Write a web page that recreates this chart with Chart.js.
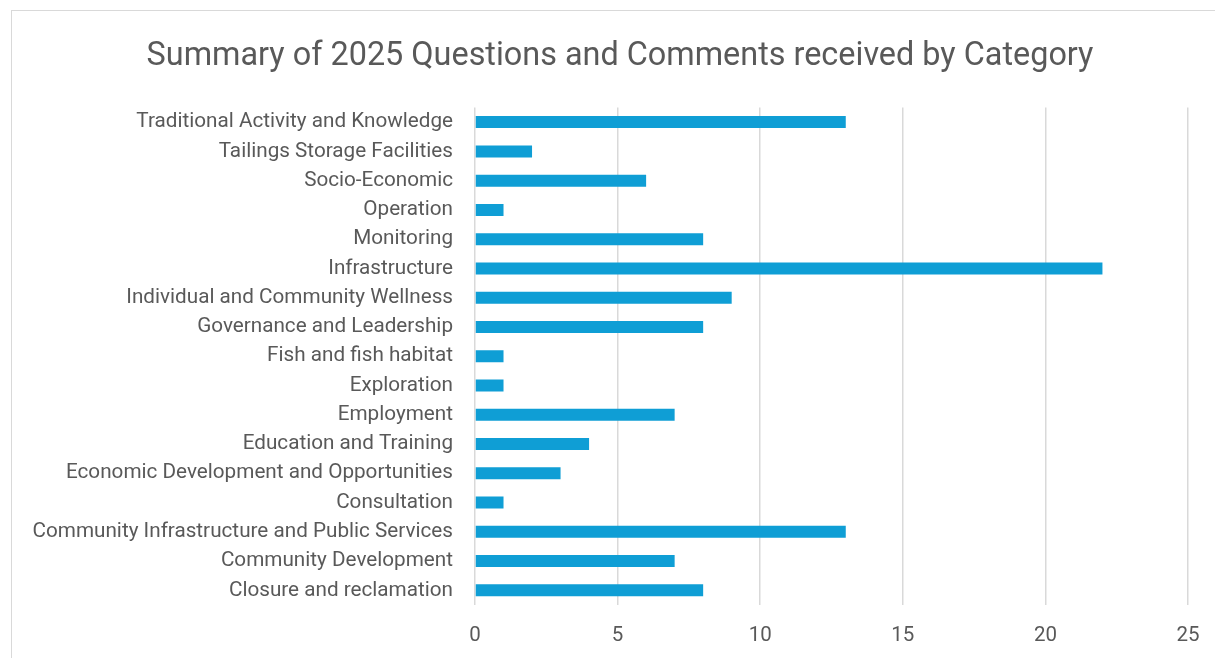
<!DOCTYPE html>
<html>
<head>
<meta charset="utf-8">
<script src="https://cdn.jsdelivr.net/npm/chart.js@4"></script>
<style>
  html, body { margin: 0; padding: 0; background: #fff; overflow: hidden; width: 1215px; height: 658px; }
  #frame { position: absolute; left: 11px; top: 10px; width: 1240px; height: 680px; border: 1.5px solid #d9d9d9; box-sizing: border-box; }
  #wrap { position: absolute; left: 0; top: 0; width: 1240px; height: 658px; }
</style>
</head>
<body>
<div id="frame"></div>
<div id="wrap"><canvas id="chart"></canvas></div>
<script>
// ===================
// Data
// ===================

const categories = [
	'Traditional Activity and Knowledge',
	'Tailings Storage Facilities',
	'Socio-Economic',
	'Operation',
	'Monitoring',
	'Infrastructure',
	'Individual and Community Wellness',
	'Governance and Leadership',
	'Fish and fish habitat',
	'Exploration',
	'Employment',
	'Education and Training',
	'Economic Development and Opportunities',
	'Consultation',
	'Community Infrastructure and Public Services',
	'Community Development',
	'Closure and reclamation'
];

const counts = [13, 2, 6, 1, 8, 22, 9, 8, 1, 1, 7, 4, 3, 1, 13, 7, 8];

const xMin = 0;
const xMax = 25;
const xStep = 5;

// ===================
// Chart
// ===================

Chart.defaults.font.family = 'Roboto, sans-serif';
Chart.defaults.color = '#595959';

var ctx = document.getElementById('chart').getContext('2d');
var chart = new Chart(ctx, {
    type: 'bar',
    data: {
        labels: categories,
        datasets: [{
            data: counts,
            backgroundColor: '#0f9ed5',
            borderWidth: 0,
            categoryPercentage: 1,
            barPercentage: 0.41
        }]
    },
    options: {
        indexAxis: 'y',
        responsive: true,
        maintainAspectRatio: false,
        animation: false,
        layout: {
            padding: 0
        },
        plugins: {
            legend: { display: false },
            tooltip: { enabled: false },
            title: {
                display: true,
                text: 'Summary of 2025 Questions and Comments received by Category',
                color: '#595959',
                font: { size: 32.4, weight: 'normal' },
                padding: { top: 37, bottom: 31.6 }
            }
        },
        scales: {
            x: {
                min: xMin,
                max: xMax,
                ticks: {
                    stepSize: xStep,
                    padding: 19,
                    color: '#595959',
                    font: { size: 20.5 }
                },
                grid: {
                    color: '#d9d9d9',
                    lineWidth: 1.5,
                    drawTicks: false
                },
                border: { display: false },
                afterFit: function (axis) {
                    axis.height = 53;
                    axis.paddingLeft = 0;
                    axis.paddingRight = 52;
                }
            },
            y: {
                ticks: {
                    padding: 22,
                    color: '#595959',
                    font: { size: 20.7 },
                    autoSkip: false
                },
                grid: { display: false, drawTicks: false },
                border: { display: false },
                afterFit: function (axis) { axis.width = 475; }
            }
        }
    }
});
</script>
</body>
</html>
